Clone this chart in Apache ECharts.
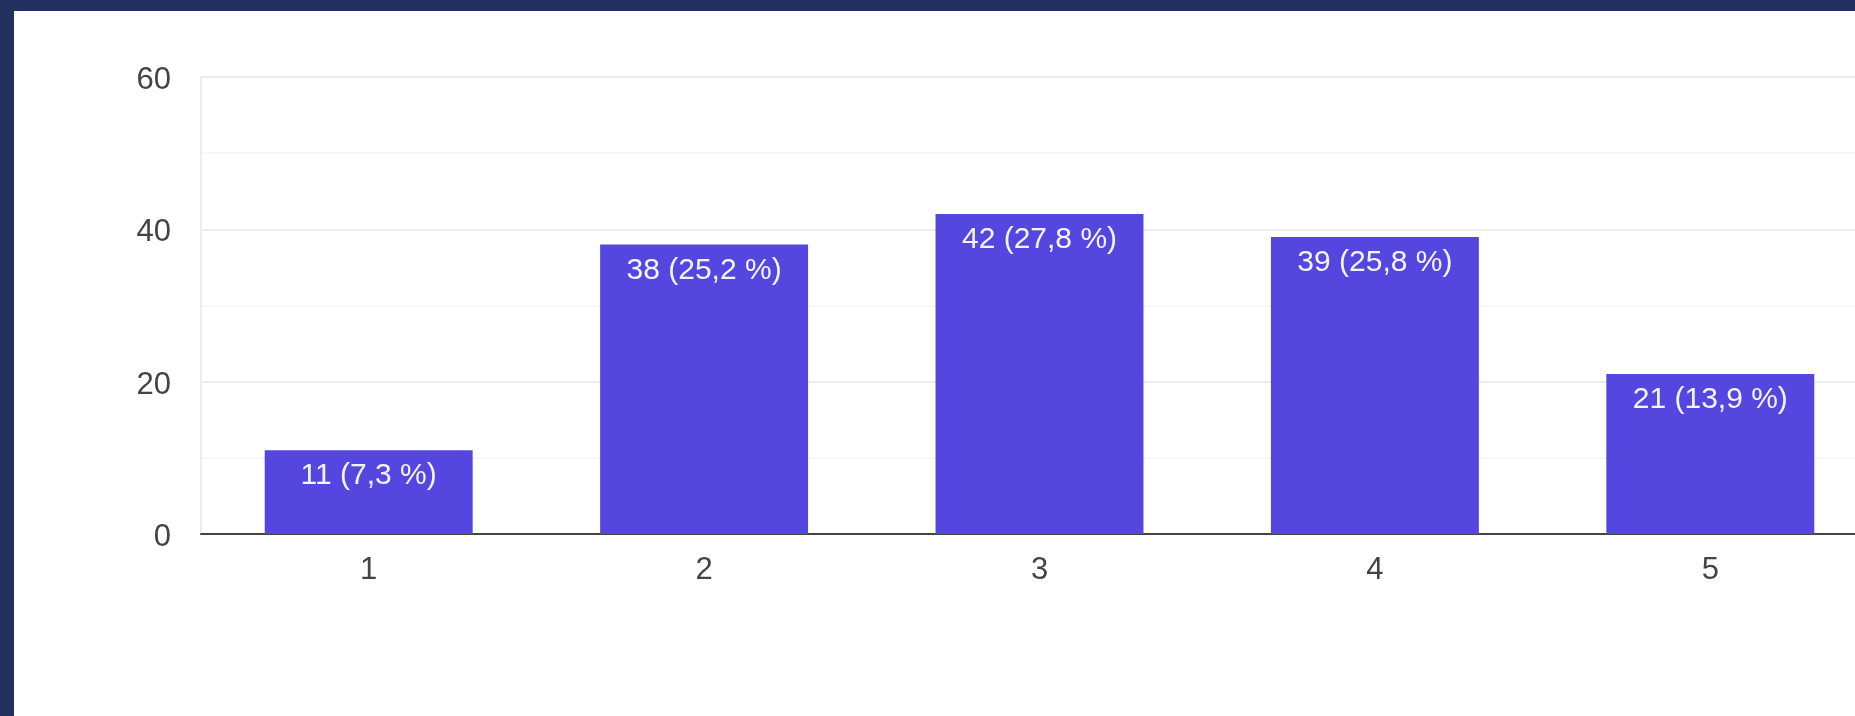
<!DOCTYPE html>
<html>
<head>
<meta charset="utf-8">
<script src="https://cdn.jsdelivr.net/npm/echarts@6/dist/echarts.min.js"></script>
<style>
  html, body { margin: 0; padding: 0; width: 100%; height: 100%; background: #21305f; overflow: hidden; }
  #frame { position: absolute; left: 14px; top: 11px; right: 0; bottom: 0; background: #ffffff; overflow: hidden; }
  /* the plot runs past the right edge in the original, so the chart is a bit wider than the frame */
  #chart { width: calc(100% + 23px); height: 100%; }
</style>
</head>
<body>
<div id="frame"><div id="chart"></div></div>
<script>
// ratings 1..5 and number of answers
var categories = ['1', '2', '3', '4', '5'];
var counts = [11, 38, 42, 39, 21];
var yTicks = [0, 20, 40, 60];

var total = counts.reduce(function (a, b) { return a + b; }, 0);

var chart = echarts.init(document.getElementById('chart'));
var font = "'Liberation Sans', Arial, sans-serif";

var option = {
    animation: false,
    grid: {
        left: 187,
        right: 0,
        top: 66,
        bottom: 182
    },
    xAxis: {
        type: 'category',
        data: categories,
        axisTick: { show: false },
        axisLine: { lineStyle: { color: '#444444', width: 2 } },
        axisLabel: { color: '#444444', fontSize: 31, fontFamily: font, margin: 21 }
    },
    yAxis: {
        type: 'value',
        min: yTicks[0],
        max: yTicks[yTicks.length - 1],
        interval: 20,
        axisLine: { show: true, lineStyle: { color: '#ececec', width: 2 } },
        axisTick: { show: false },
        axisLabel: {
            color: '#444444', fontSize: 31, fontFamily: font, margin: 30,
            verticalAlign: 'top', lineHeight: 7
        },
        splitLine: { lineStyle: { color: '#ececec', width: 2 } },
        minorTick: { show: false, splitNumber: 2 },
        minorSplitLine: { show: true, lineStyle: { color: '#f6f6f6', width: 2 } }
    },
    series: [
        {
            type: 'bar',
            data: counts,
            barCategoryGap: '38%',
            itemStyle: { color: '#5546e0' },
            label: {
                show: true,
                position: 'insideTop',
                distance: 11,
                color: '#f4f4ff',
                fontSize: 30,
                fontFamily: font,
                formatter: function (p) {
                    var pct = (p.value / total * 100).toFixed(1).replace('.', ',');
                    return p.value + ' (' + pct + ' %)';
                }
            }
        }
    ]
};

chart.setOption(option);

window.addEventListener('resize', function () {
    chart.resize();
});
</script>
</body>
</html>
